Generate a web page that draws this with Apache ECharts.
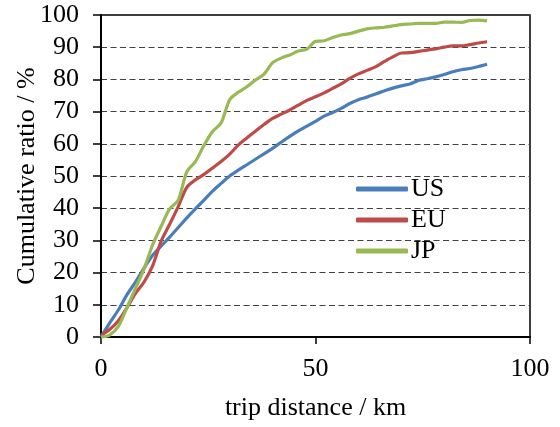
<!DOCTYPE html>
<html>
<head>
<meta charset="utf-8">
<script src="https://cdn.jsdelivr.net/npm/echarts@6/dist/echarts.min.js"></script>
<style>html,body{margin:0;padding:0;background:#fff}#c{width:560px;height:427px}</style>
</head>
<body>
<div id="c"></div>
<script>
const distance = [0,2,4,6,8,10,12,14,16,18,20,22,24,26,28,30,32,34,36,38,40,42,44,46,48,50,52,54,56,58,60,62,64,66,68,70,72,74,76,78,80,82,84,86,88,90];
const US = [0,4.3,8.3,13,17,21.3,25.3,28.2,31,34,37,39.8,42.5,45.3,47.7,50,51.8,53.5,55.2,56.9,58.6,60.5,62.3,64,65.5,67,68.6,69.7,71,72.5,73.7,74.5,75.5,76.4,77.3,78,78.6,79.7,80.2,80.8,81.5,82.4,83,83.4,84,84.7];
const EU = [0.5,2.3,5,9,13.5,17,22,29.7,35,40.5,46.5,48.8,50.5,52.5,54.5,56.8,59.6,61.8,63.9,66,67.9,69.2,70.5,72,73.5,74.6,75.8,77.2,78.6,80.3,81.7,82.8,83.9,85.5,87,88.2,88.3,88.7,89.1,89.5,90,90.4,90.4,90.8,91.3,91.7];
const JP = [0,0.6,3.2,9,15,21,28.5,34.3,39.8,42.5,51.3,54.5,59.5,63.8,66.5,73.7,76,77.7,79.8,81.6,85.2,86.6,87.6,88.8,89.4,91.8,92,93,93.8,94.2,95,95.7,96,96.2,96.6,97,97.2,97.4,97.4,97.4,97.8,97.8,97.7,98.3,98.4,98.2];
const yTicks = [0,10,20,30,40,50,60,70,80,90,100];
const xTicks = [0,50,100];

const font = "'Liberation Serif','Times New Roman',serif";
const pair = arr => distance.map((x,i)=>[x,arr[i]]);
const mk = (name, arr, color) => ({
  name, type:'line', data: pair(arr), smooth:0.3, symbol:'none', showSymbol:false,
  lineStyle:{color, width:3.2}, itemStyle:{color}
});

const chart = echarts.init(document.getElementById('c'), null, {renderer:'canvas'});
chart.setOption({
  animation:false,
  backgroundColor:'#fff',
  textStyle:{fontFamily:font},
  grid:{left:101, right:30, top:15, bottom:90, outerBoundsMode:'none', containLabel:false,
        show:true, borderColor:'#000', borderWidth:1.5, backgroundColor:'transparent'},
  legend:{
    orient:'vertical', left:351, top:171, itemGap:5, itemWidth:52, itemHeight:5, icon:'roundRect',
    textStyle:{fontFamily:font, fontSize:26, color:'#000', padding:[0,0,0,-2]},
    data:['US','EU','JP']
  },
  xAxis:{
    type:'value', min:xTicks[0], max:xTicks[xTicks.length-1], interval:xTicks[1]-xTicks[0],
    name:'trip distance / km', nameLocation:'middle', nameGap:58, nameMoveOverlap:false,
    nameTextStyle:{fontFamily:font, fontSize:26, color:'#000'},
    axisLine:{show:true, onZero:false, lineStyle:{color:'#000', width:2}},
    axisTick:{show:true, inside:false, length:7, lineStyle:{color:'#000', width:1.5}},
    axisLabel:{fontFamily:font, fontSize:26, color:'#000', margin:19},
    splitLine:{show:false}
  },
  yAxis:{
    type:'value', min:yTicks[0], max:yTicks[yTicks.length-1], interval:yTicks[1]-yTicks[0],
    name:'Cumulative ratio / %', nameLocation:'middle', nameGap:61, nameRotate:90, nameMoveOverlap:false,
    nameTextStyle:{fontFamily:font, fontSize:26, color:'#000'},
    axisLine:{show:true, onZero:false, lineStyle:{color:'#000', width:2}},
    axisTick:{show:true, inside:false, length:8, lineStyle:{color:'#000', width:1.5}},
    axisLabel:{fontFamily:font, fontSize:26, color:'#000', margin:22},
    splitLine:{show:true, lineStyle:{color:'#404040', width:1.2, type:[6,3.5]}}
  },
  series:[mk('US',US,'#4a7ebb'), mk('EU',EU,'#be4b48'), mk('JP',JP,'#98b954')]
});
</script>
</body>
</html>
